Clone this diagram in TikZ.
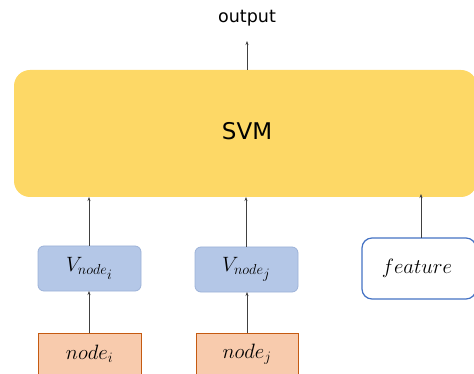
\documentclass[tikz,border=0pt]{standalone}
\usepackage{fontspec}
\setsansfont{DejaVu Sans}
\usetikzlibrary{arrows.meta}
\definecolor{svmfill}{HTML}{FDD866}
\definecolor{vfill}{HTML}{B4C7E7}
\definecolor{vdraw}{HTML}{9DB2D8}
\definecolor{featdraw}{HTML}{4472C4}
\definecolor{nfill}{HTML}{F8CBAD}
\definecolor{ndraw}{HTML}{C55A11}
\definecolor{arr}{HTML}{404040}
\begin{document}
\begin{tikzpicture}[x=1pt,y=-1pt,
  conn/.style={draw=arr,line width=0.6pt,-{Stealth[length=4pt,width=3pt]}},
  vbox/.style={draw=vdraw,fill=vfill,rounded corners=6pt,line width=0.8pt},
  nbox/.style={draw=ndraw,fill=nfill,line width=0.8pt},
  mtext/.style={font=\fontsize{20.74}{25}\selectfont}]
\useasboundingbox (0,0) rectangle (474,374);
\clip (0,0) rectangle (474,374);
\fill[svmfill,rounded corners=16pt] (14,70) rectangle (477,197);
\node[font=\sffamily\fontsize{23}{28}\selectfont] (svm) at (247,131) {SVM};
\node[font=\sffamily\fontsize{17.5}{21}\selectfont] (out) at (247,18) {output};
\coordinate (svmtop) at (247,70);
\coordinate (outbot) at (247,41);
\draw[conn] (svmtop) -- (outbot);
% V boxes
\draw[vbox] (38,246) rectangle (141,291);
\node[mtext] (vi) at (89.5,268.5) {$V_{node_{\scriptstyle i}}$};
\draw[vbox] (195,247) rectangle (298,292);
\node[mtext] (vj) at (246.5,269.5) {$V_{node_{\scriptstyle j}}$};
% feature
\draw[draw=featdraw,fill=white,rounded corners=10pt,line width=1.2pt] (362,238) rectangle (476,299);
\node[mtext] (feat) at (417,268) {$feature$};
% node boxes
\draw[nbox] (38,333) rectangle (141,390);
\node[mtext] (ni) at (89.5,354) {$node_i$};
\draw[nbox] (196,333) rectangle (298,390);
\node[mtext] (nj) at (247,354) {$node_j$};
% connectors
\coordinate (vitop) at (89,246);
\coordinate (vibot) at (89,291);
\coordinate (vjtop) at (246,247);
\coordinate (vjbot) at (247,292);
\coordinate (ftop) at (421,238);
\coordinate (nitop) at (89,333);
\coordinate (njtop) at (247,333);
\coordinate (s1) at (89,197);
\coordinate (s2) at (246,197);
\coordinate (s3) at (421,194);
\draw[conn] (vitop) -- (s1);
\draw[conn] (vjtop) -- (s2);
\draw[conn] (ftop) -- (s3);
\draw[conn] (nitop) -- (vibot);
\draw[conn] (njtop) -- (vjbot);
\end{tikzpicture}
\end{document}
